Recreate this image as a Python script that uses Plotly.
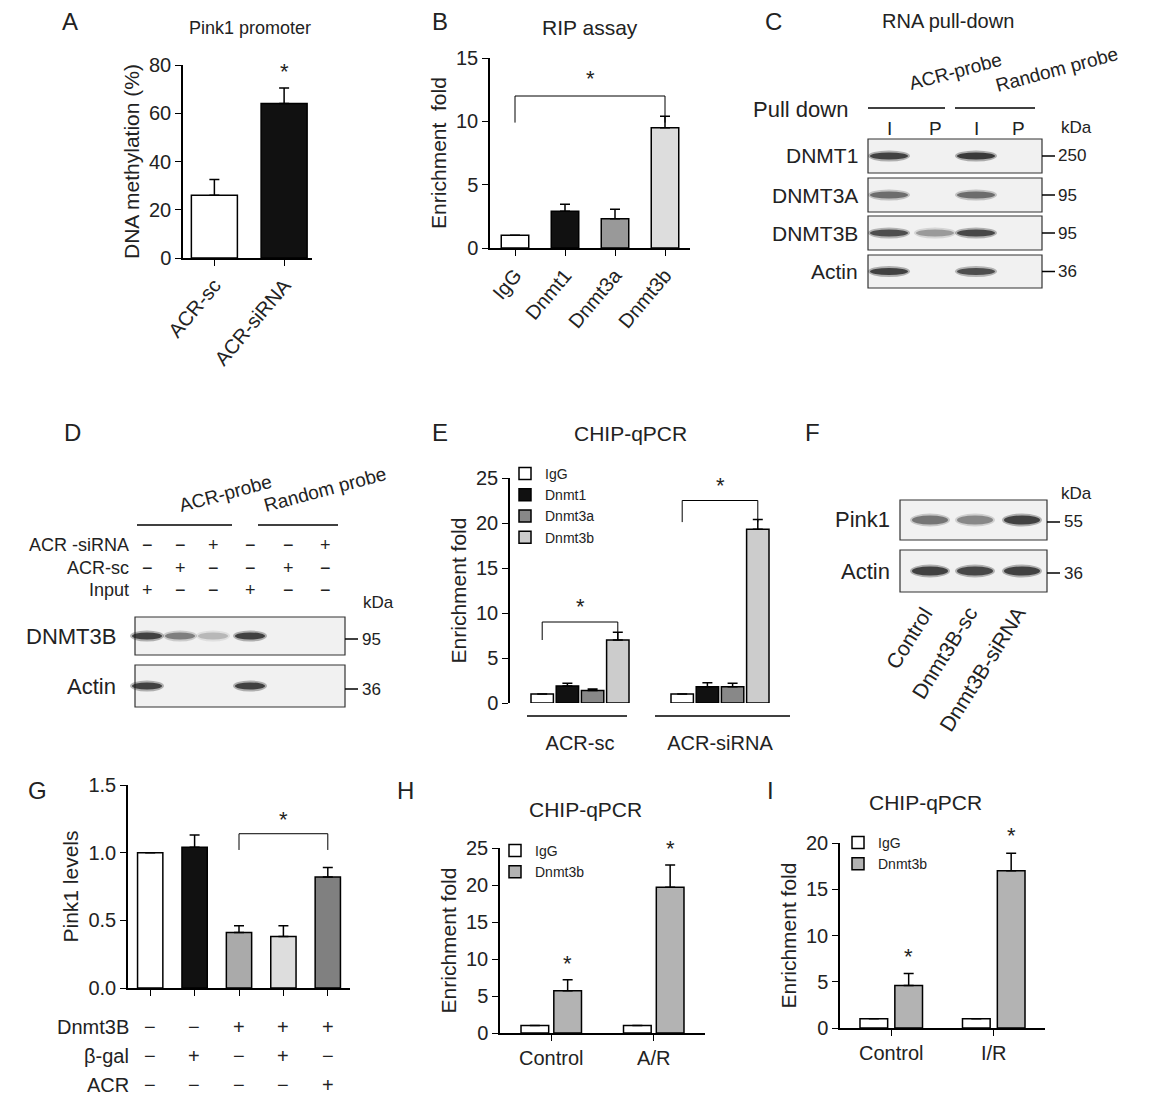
import plotly.graph_objects as go

W, H = 1154, 1110
FONT = "Arial, Liberation Sans, sans-serif"
OFF = 8  # page body margin compensation

# ---------------- data ----------------
a_cats = ["ACR-sc", "ACR-siRNA"]
a_vals = [26, 64]
a_err = [6.5, 6.5]
a_cols = ["white", "#111111"]

b_cats = ["IgG", "Dnmt1", "Dnmt3a", "Dnmt3b"]
b_vals = [1.0, 2.9, 2.3, 9.5]
b_err = [0, 0.55, 0.75, 0.9]
b_cols = ["white", "#111111", "#999999", "#dddddd"]

e_groups = ["ACR-sc", "ACR-siRNA"]
e_series = ["IgG", "Dnmt1", "Dnmt3a", "Dnmt3b"]
e_vals = [[1.0, 1.0], [1.9, 1.8], [1.4, 1.8], [7.0, 19.3]]
e_err = [[0, 0], [0.3, 0.45], [0.15, 0.4], [0.85, 1.1]]
e_cols = ["white", "#111111", "#888888", "#cccccc"]

g_cats = ["c1", "c2", "c3", "c4", "c5"]
g_vals = [1.0, 1.04, 0.41, 0.38, 0.82]
g_err = [0, 0.09, 0.05, 0.08, 0.07]
g_cols = ["white", "#111111", "#aaaaaa", "#dddddd", "#808080"]
g_rows = ["Dnmt3B", "β-gal", "ACR"]
g_signs = [["−", "−", "+", "+", "+"], ["−", "+", "−", "+", "−"], ["−", "−", "−", "−", "+"]]

h_groups = ["Control", "A/R"]
h_igg = [1.0, 1.0]
h_d3b = [5.7, 19.7]
h_err = [1.5, 3.0]

i_groups = ["Control", "I/R"]
i_igg = [1.0, 1.0]
i_d3b = [4.6, 17.0]
i_err = [1.3, 1.9]

c_rows = ["DNMT1", "DNMT3A", "DNMT3B", "Actin"]
c_kda = ["250", "95", "95", "36"]
c_bands = [[0.95, 0.0, 1.0, 0.0], [0.65, 0.0, 0.65, 0.0], [0.85, 0.4, 0.9, 0.0], [0.95, 0.0, 0.85, 0.0]]
c_lanes = ["I", "P", "I", "P"]

d_rows = ["DNMT3B", "Actin"]
d_kda = ["95", "36"]
d_bands = [[0.95, 0.55, 0.25, 0.95, 0.0, 0.0], [0.95, 0.0, 0.0, 0.95, 0.0, 0.0]]
d_labels = ["ACR -siRNA", "ACR-sc", "Input"]
d_signs = [["−", "−", "+", "−", "−", "+"], ["−", "+", "−", "−", "+", "−"], ["+", "−", "−", "+", "−", "−"]]

f_rows = ["Pink1", "Actin"]
f_kda = ["55", "36"]
f_bands = [[0.6, 0.5, 0.95], [0.95, 0.9, 0.95]]
f_lanes = ["Control", "Dnmt3B-sc", "Dnmt3B-siRNA"]

# ---------------- helpers ----------------
def px(x): return (x - OFF) / W
def py(y): return 1 - (y - OFF) / H

fig = go.Figure()
shapes, ann = [], []

def text(x, y, t, size=20, xa="center", ya="middle", angle=0, color="#222"):
    ann.append(dict(x=px(x), y=py(y), xref="paper", yref="paper", text=t, showarrow=False,
                    font=dict(size=size, family=FONT, color=color), xanchor=xa, yanchor=ya, textangle=angle))

def line(x0, y0, x1, y1, w=1.5):
    shapes.append(dict(type="line", xref="paper", yref="paper", x0=px(x0), y0=py(y0), x1=px(x1), y1=py(y1),
                       line=dict(color="black", width=w)))

def ax_setup(n, xd, yd, yrange, dtick, xr=None, xticks=True, xline=True, tickangle=0, showxlabels=True,
             xtickvals=None, xticktext=None, ytitle=None, ticklen=6, tickcolor="black"):
    xk = "xaxis" if n == 1 else f"xaxis{n}"
    yk = "yaxis" if n == 1 else f"yaxis{n}"
    sid = "" if n == 1 else str(n)
    fig.layout[xk] = dict(domain=[px(xd[0]), px(xd[1])], anchor="y" + sid, showgrid=False, zeroline=False,
                          showline=xline, linecolor="black", linewidth=1.5,
                          ticks="outside" if xticks else "", ticklen=ticklen, tickcolor=tickcolor,
                          tickangle=tickangle, showticklabels=showxlabels,
                          tickfont=dict(size=20, family=FONT, color="#222"),
                          range=xr, tickvals=xtickvals, ticktext=xticktext, fixedrange=True)
    fig.layout[yk] = dict(domain=[py(yd[0]), py(yd[1])], anchor="x" + sid, range=yrange, dtick=dtick,
                          showgrid=False, zeroline=False, showline=True, linecolor="black", linewidth=1.5,
                          ticks="outside", ticklen=6, tickcolor="black",
                          tickfont=dict(size=20, family=FONT, color="#222"),
                          title=dict(text=ytitle, font=dict(size=21, family=FONT, color="#222"), standoff=4),
                          fixedrange=True)

def bars(n, x, y, err, cols, width, name=None, legend=None, showlegend=False):
    sid = "" if n == 1 else str(n)
    fig.add_trace(go.Bar(x=x, y=y, width=width, marker=dict(color=cols, line=dict(color="black", width=1.5)),
                         error_y=dict(type="data", symmetric=False, array=err, arrayminus=[0] * len(y),
                                      color="black", thickness=1.5, width=5),
                         xaxis="x" + sid, yaxis="y" + sid, name=name, showlegend=showlegend,
                         legend=legend))

def bracket(n, x0, x1, ytop, ylow, star_y):
    sid = "" if n == 1 else str(n)
    for (a, b, c, d) in [(x0, ytop, x1, ytop), (x0, ytop, x0, ylow), (x1, ytop, x1, ylow)]:
        shapes.append(dict(type="line", xref="x" + sid, yref="y" + sid, x0=a, y0=b, x1=c, y1=d,
                           line=dict(color="black", width=1)))
    ann.append(dict(x=(x0 + x1) / 2, y=star_y, xref="x" + sid, yref="y" + sid, text="*", showarrow=False,
                    font=dict(size=22, family=FONT, color="#222"), yanchor="bottom"))

def star(n, x, y):
    sid = "" if n == 1 else str(n)
    ann.append(dict(x=x, y=y, xref="x" + sid, yref="y" + sid, text="*", showarrow=False,
                    font=dict(size=22, family=FONT, color="#222"), yanchor="bottom"))

def blot_row(x0, x1, y0, y1, lanes_x, intens, bw, bh=7):
    shapes.append(dict(type="rect", xref="paper", yref="paper", x0=px(x0), x1=px(x1), y0=py(y0), y1=py(y1),
                       line=dict(color="#333", width=1.2), fillcolor="#f1f1f1"))
    yc = (y0 + y1) / 2
    for lx, v in zip(lanes_x, intens):
        if v <= 0:
            continue
        shapes.append(dict(type="circle", xref="paper", yref="paper", x0=px(lx - bw / 2 - 2), x1=px(lx + bw / 2 + 2),
                           y0=py(yc - bh / 2 - 2), y1=py(yc + bh / 2 + 2), line=dict(width=0),
                           fillcolor=f"rgba(40,40,40,{0.35 * v:.2f})"))
        shapes.append(dict(type="circle", xref="paper", yref="paper", x0=px(lx - bw / 2), x1=px(lx + bw / 2),
                           y0=py(yc - bh / 2), y1=py(yc + bh / 2), line=dict(width=0),
                           fillcolor=f"rgba(30,30,30,{0.8 * v:.2f})"))

# ---------------- A ----------------
ax_setup(1, (183, 312), (258, 65), [0, 80], 20, xr=[-0.45, 1.4], tickangle=-50, ytitle="DNA methylation (%)")
bars(1, a_cats, a_vals, a_err, a_cols, 0.66)
star(1, 1, 71.5)
text(70, 22, "A", 24)
text(250, 28, "Pink1 promoter", 18)

# ---------------- B ----------------
ax_setup(2, (490, 690), (248, 58), [0, 15], 5, xr=[-0.5, 3.5], tickangle=-50, ytitle="Enrichment  fold")
bars(2, b_cats, b_vals, b_err, b_cols, 0.55)
bracket(2, 0, 3, 12.0, 9.9, 12.2)
text(440, 22, "B", 24)
text(590, 27, "RIP assay", 21)

# ---------------- C ----------------
text(773, 22, "C", 24)
text(948, 21, "RNA pull-down", 20)
text(800, 110, "Pull down", 22)
line(868, 108, 945, 108); line(955, 108, 1035, 108)
text(955, 72, "ACR-probe", 19, angle=-15)
text(1057, 70, "Random probe", 19, angle=-15)
c_lx = [889, 935, 976, 1018]
for lx, t in zip(c_lx, c_lanes):
    text(lx, 128, t, 19)
text(1076, 127, "kDa", 17)
c_y = [(139, 173), (178, 212), (216, 250), (255, 288)]
for (y0, y1), name, k, inten in zip(c_y, c_rows, c_kda, c_bands):
    blot_row(868, 1042, y0, y1, c_lx, inten, 38)
    yc = (y0 + y1) / 2
    text(860, yc, name, 21, xa="right")
    line(1042, yc, 1055, yc)
    text(1056, yc, k, 17, xa="left")

# ---------------- D ----------------
text(72, 432, "D", 24)
d_lx = [147, 180, 213, 250, 288, 325]
text(225, 494, "ACR-probe", 19, angle=-15)
text(325, 489, "Random probe", 19, angle=-15)
line(137, 525, 232, 525); line(258, 525, 338, 525)
for r, (lab, signs) in enumerate(zip(d_labels, d_signs)):
    yy = 545 + 22.5 * r
    text(131, yy, lab, 18, xa="right")
    for lx, s in zip(d_lx, signs):
        text(lx, yy, s, 18)
text(378, 602, "kDa", 17)
d_y = [(617, 655), (665, 707)]
for (y0, y1), name, k, inten in zip(d_y, d_rows, d_kda, d_bands):
    blot_row(135, 345, y0, y1, d_lx, inten, 30)
    yc = (y0 + y1) / 2 + 3
    text(118, yc - 3, name, 22, xa="right")
    line(345, yc, 358, yc)
    text(360, yc, k, 17, xa="left")

# ---------------- E ----------------
e_off = [-0.27, -0.09, 0.09, 0.27]
ax_setup(3, (510, 790), (703, 478), [0, 25], 5, xr=[-0.5, 1.5], xline=False,
         xtickvals=[0, 1], xticktext=e_groups, ytitle="Enrichment fold", ticklen=22, tickcolor="rgba(0,0,0,0)")
for s, name in enumerate(e_series):
    bars(3, [g + e_off[s] for g in range(len(e_groups))], e_vals[s], e_err[s], e_cols[s], 0.16,
         name=name, legend="legend", showlegend=True)
bracket(3, e_off[0], e_off[3], 9.0, 7.0, 9.1)
bracket(3, 1 + e_off[0], 1 + e_off[3], 22.5, 20.1, 22.6)
line(527, 716, 627, 716); line(655, 716, 790, 716)
text(440, 432, "E", 24)
text(630, 433, "CHIP-qPCR", 21)

# ---------------- F ----------------
text(812, 432, "F", 24)
f_lx = [930, 975, 1022]
text(1076, 494, "kDa", 17)
f_y = [(500, 540), (550, 592)]
for (y0, y1), name, k, inten in zip(f_y, f_rows, f_kda, f_bands):
    blot_row(900, 1047, y0, y1, f_lx, inten, 36, 9)
    yc = (y0 + y1) / 2 + 2
    text(892, yc - 2, name, 22, xa="right")
    line(1047, yc, 1060, yc)
    text(1062, yc, k, 17, xa="left")
for lx, t in zip(f_lx, f_lanes):
    text(lx + 10, 600, t, 21, xa="right", ya="top", angle=-58)

# ---------------- G ----------------
ax_setup(4, (128, 350), (988, 785), [0, 1.5], 0.5, xr=[-0.5, 4.5], showxlabels=False, ytitle="Pink1 levels")
fig.layout.yaxis4.tickformat = ".1f"
bars(4, g_cats, g_vals, g_err, g_cols, 0.57)
bracket(4, 2, 4, 1.14, 1.02, 1.14)
g_lx = [150, 194, 239, 283, 328]
for r, (lab, signs) in enumerate(zip(g_rows, g_signs)):
    yy = 1027 + 29 * r
    text(131, yy, lab, 20, xa="right")
    for lx, s in zip(g_lx, signs):
        text(lx, yy, s, 20)
text(37, 790, "G", 24)

# ---------------- H ----------------
ax_setup(5, (500, 705), (1033, 848), [0, 25], 5, xr=[-0.5, 1.5], xtickvals=[0, 1], xticktext=h_groups,
         ytitle="Enrichment fold")
bars(5, [g - 0.16 for g in range(2)], h_igg, [0, 0], "white", 0.27, name="IgG", legend="legend2", showlegend=True)
bars(5, [g + 0.16 for g in range(2)], h_d3b, h_err, "#b3b3b3", 0.27, name="Dnmt3b", legend="legend2", showlegend=True)
for g in range(2):
    star(5, g + 0.16, h_d3b[g] + h_err[g] + 0.3)
text(405, 790, "H", 24)
text(585, 810, "CHIP-qPCR", 21)

# ---------------- I ----------------
ax_setup(6, (840, 1045), (1028, 843), [0, 20], 5, xr=[-0.5, 1.5], xtickvals=[0, 1], xticktext=i_groups,
         ytitle="Enrichment fold")
bars(6, [g - 0.17 for g in range(2)], i_igg, [0, 0], "white", 0.27, name="IgG", legend="legend3", showlegend=True)
bars(6, [g + 0.17 for g in range(2)], i_d3b, i_err, "#b3b3b3", 0.27, name="Dnmt3b", legend="legend3", showlegend=True)
for g in range(2):
    star(6, g + 0.17, i_d3b[g] + i_err[g] + 0.3)
text(770, 790, "I", 24)
text(925, 802, "CHIP-qPCR", 21)

leg = dict(font=dict(size=14, family=FONT, color="#222"), bgcolor="rgba(0,0,0,0)", tracegroupgap=0,
           itemwidth=30, xanchor="left", yanchor="top", itemclick=False)
fig.update_layout(
    width=W, height=H, margin=dict(l=0, r=0, t=0, b=0, autoexpand=False), plot_bgcolor="white",
    paper_bgcolor="white",
    barmode="overlay", shapes=shapes, annotations=ann, showlegend=True,
    legend=dict(leg, x=px(505), y=py(458)),
    legend2=dict(leg, x=px(495), y=py(835)),
    legend3=dict(leg, x=px(838), y=py(827)),
)
fig.write_html("out.html")
